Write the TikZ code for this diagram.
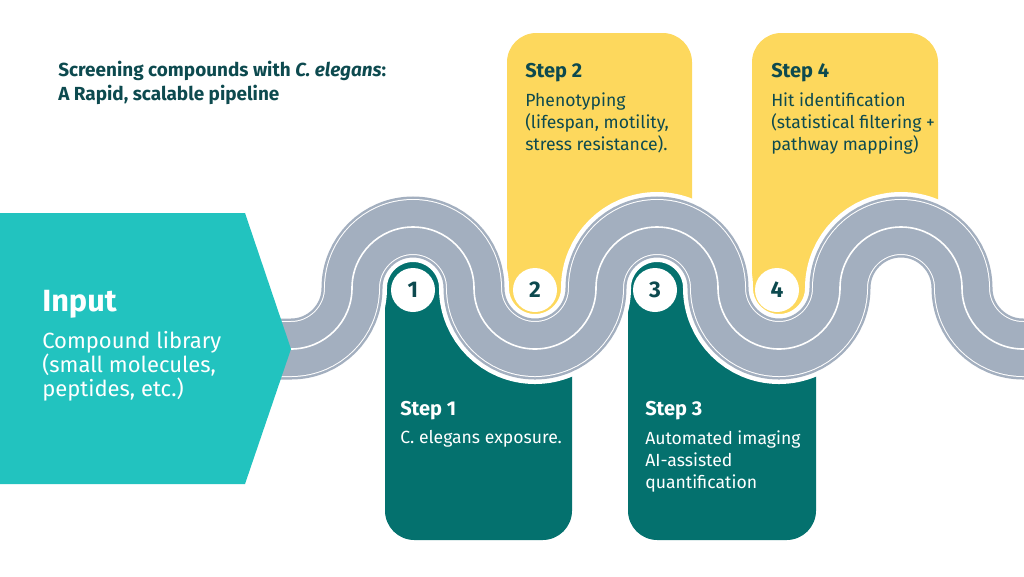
\documentclass[tikz,border=0pt]{standalone}
\usepackage{fontspec}
\setmainfont{Fira Sans}
\begin{document}
\begin{tikzpicture}[x=0.75pt,y=-0.75pt,
  txt/.style={anchor=north west,inner sep=0pt,align=left},
  hd/.style={txt,font=\fontsize{15}{18}\selectfont\bfseries},
  bd/.style={txt,font=\fontsize{13.2}{16.5}\selectfont},
  num/.style={circle,fill=white,minimum size=44*0.75pt,inner sep=0pt,text=dkt,font=\fontsize{17}{17}\selectfont\bfseries}]
\definecolor{teal1}{HTML}{22C3BF}
\definecolor{teal2}{HTML}{04716E}
\definecolor{yel}{HTML}{FDD85D}
\definecolor{dkt}{HTML}{0D4A4F}
\definecolor{road}{HTML}{A3AFBF}
\useasboundingbox (0,0) rectangle (1024,576);
\def\roadpath{(280,349) -- (291,349) arc[start angle=90,end angle=0,radius=61]
  arc[start angle=180,end angle=360,radius=61]
  arc[start angle=180,end angle=0,radius=61]
  arc[start angle=180,end angle=360,radius=61]
  arc[start angle=180,end angle=0,radius=61]
  arc[start angle=180,end angle=360,radius=61]
  arc[start angle=180,end angle=90,radius=61] -- (1030,349)}
% panels
\begin{scope}
\clip (280,600) -- \roadpath -- (1030,600) -- cycle;
\fill[teal2,rounded corners=22] (385,230) rectangle (572,540);
\fill[teal2,rounded corners=22] (628,230) rectangle (816,540);
\end{scope}
\begin{scope}
\clip (280,0) -- \roadpath -- (1030,0) -- cycle;
\fill[yel,rounded corners=22] (507,33) rectangle (692,400);
\fill[yel,rounded corners=22] (752,33) rectangle (938,400);
\end{scope}
% road
\draw[white,line width=70*0.75pt] \roadpath;
\draw[road,line width=61*0.75pt] \roadpath;
\draw[white,line width=56*0.75pt] \roadpath;
\draw[road,line width=54*0.75pt] \roadpath;
\draw[white,line width=1.2pt] \roadpath;
% input arrow
\fill[teal1] (0,213) -- (245,213) -- (291,349) -- (245,484) -- (0,484) -- cycle;
\node[txt,text=white,font=\fontsize{23}{23}\selectfont\bfseries] (inp) at (42,290) {Input};
\node[txt,text=white,font=\fontsize{16.5}{18}\selectfont] (inpb) at (42,331) {Compound library\\(small molecules,\\peptides, etc.)};
% numbers
\node[num] (n1) at (413,290) {1};
\node[num] (n2) at (535,290) {2};
\node[num] (n3) at (655,290) {3};
\node[num] (n4) at (777,290) {4};
% texts
\node[txt,text=dkt,font=\fontsize{14.2}{18}\selectfont\bfseries] (title) at (58,61) {Screening compounds with \textit{C. elegans}:\\A Rapid, scalable pipeline};
\node[hd,text=dkt] (s2) at (525,63) {Step 2};
\node[bd,text=dkt] (s2b) at (525,92) {Phenotyping\\(lifespan, motility,\\stress resistance).};
\node[hd,text=dkt] (s4) at (771,63) {Step 4};
\node[bd,text=dkt] (s4b) at (771,92) {Hit identification\\(statistical filtering +\\pathway mapping)};
\node[hd,text=white] (s1) at (400,401) {Step 1};
\node[bd,text=white] (s1b) at (400,430) {C. elegans exposure.};
\node[hd,text=white] (s3) at (645,401) {Step 3};
\node[bd,text=white] (s3b) at (645,430) {Automated imaging\\AI-assisted\\quantification};
\end{tikzpicture}
\end{document}
